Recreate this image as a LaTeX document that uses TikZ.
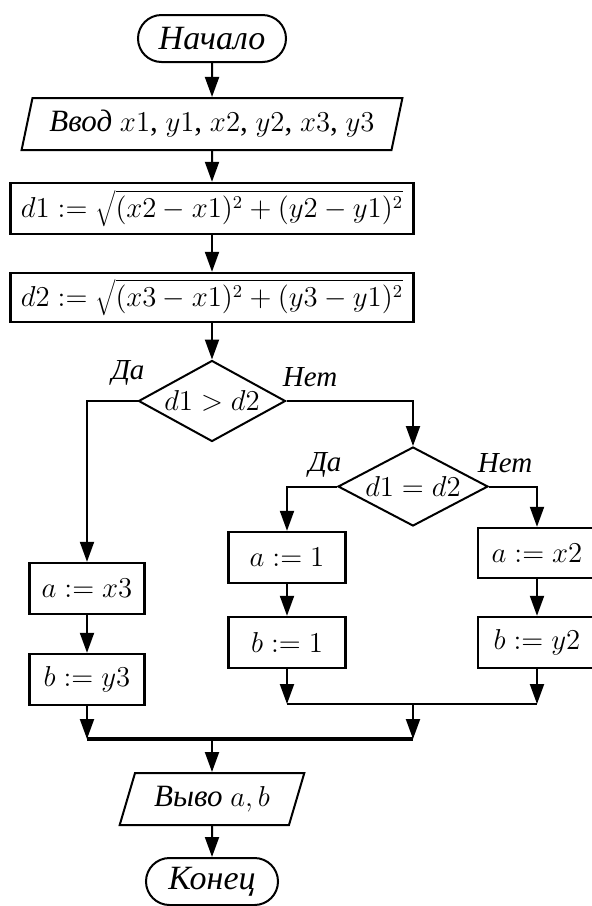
\documentclass[tikz,border=0pt]{standalone}
\usepackage{fontspec}
\setmainfont{Liberation Serif}
\usetikzlibrary{shapes.geometric,shapes.misc,arrows.meta}
\begin{document}
\begin{tikzpicture}[x=0.5pt,y=-0.5pt,
  base/.style={font=\fontsize{14}{16}\selectfont, inner sep=0pt, line width=1pt},
  term/.style={base, draw, rounded rectangle, minimum height=23.5pt, font=\fontsize{17}{19}\selectfont},
  io/.style={base, draw, trapezium, trapezium stretches=true, minimum height=26pt, font=\fontsize{15.5}{17}\selectfont},
  proc/.style={base, draw, rectangle, line width=1.2pt},
  dec/.style={base, draw, diamond, shape aspect=1.8},
  lbl/.style={font=\fontsize{14.5}{16}\selectfont\itshape, inner sep=0pt},
  arr/.style={line width=1pt, -{Triangle[width=7pt,length=10pt]}},
  ln/.style={line width=1pt}
]
\useasboundingbox (0,0) rectangle (592,906);
\fill[white] (0,0) rectangle (592,906);

\node[term, minimum width=74pt] (start) at (212,38.5) {\textit{Начало}};
\node[io, minimum width=190.5pt, trapezium left angle=70, trapezium right angle=110] (in) at (212,124)
  {\textit{Ввод} $x1$, $y1$, $x2$, $y2$, $x3$, $y3$};
\node[proc, minimum width=201.5pt, minimum height=25.5pt, font=\fontsize{13.5}{15}\selectfont] (d1) at (212,208.5)
  {$d1 := \sqrt{(x2-x1)^2+(y2-y1)^2}$};
\node[proc, minimum width=201.5pt, minimum height=24.5pt, font=\fontsize{13.5}{15}\selectfont] (d2) at (212,297.5)
  {$d2 := \sqrt{(x3-x1)^2+(y3-y1)^2}$};
\node[dec, minimum width=73.5pt, minimum height=40.5pt] (c1) at (212,401) {$d1 > d2$};
\node[dec, minimum width=75pt, minimum height=39.5pt] (c2) at (413,486.5) {$d1 = d2$};

\node[proc, minimum width=57.5pt, minimum height=25.5pt] (ax3) at (87,588.5) {$a := x3$};
\node[proc, minimum width=57.5pt, minimum height=25.5pt] (by3) at (87,679.5) {$b := y3$};
\node[proc, minimum width=58.5pt, minimum height=25.5pt] (a1) at (287,557.5) {$a := 1$};
\node[proc, minimum width=58.5pt, minimum height=25.5pt] (b1) at (287,642.5) {$b := 1$};
\node[proc, minimum width=59pt, minimum height=25pt] (ax2) at (537,553) {$a := x2$};
\node[proc, minimum width=59pt, minimum height=25.5pt] (by2) at (537,642.5) {$b := y2$};

\node[io, minimum width=92.5pt, trapezium left angle=66, trapezium right angle=114] (out) at (212,799)
  {\textit{Выво} $a,b$};
\node[term, minimum width=66pt] (end) at (212,881.5) {\textit{Конец}};

\node[lbl] (da1) at (128,373) {Да};
\node[lbl] (net1) at (310,377) {Нет};
\node[lbl] (da2) at (325,465) {Да};
\node[lbl] (net2) at (505,463) {Нет};

\coordinate (m1) at (413,704);
\coordinate (m2) at (212,739);

\draw[arr] (start) -- (in);
\draw[arr] (in) -- (d1);
\draw[arr] (d1) -- (d2);
\draw[arr] (d2) -- (c1);
\draw[arr] (c1.west) -| (ax3.north);
\draw[arr] (c1.east) -| (c2.north);
\draw[arr] (c2.west) -| (a1.north);
\draw[arr] (c2.east) -| (ax2.north);
\draw[arr] (ax3) -- (by3);
\draw[arr] (a1) -- (b1);
\draw[arr] (ax2) -- (by2);
\draw[arr] (b1.south) -- (b1.south |- m1);
\draw[arr] (by2.south) -- (by2.south |- m1);
\draw[ln] (b1.south |- m1) -- (by2.south |- m1);
\draw[arr] (m1) -- (m1 |- m2);
\draw[arr] (by3.south) -- (by3.south |- m2);
\draw[line width=1.6pt] (by3.south |- m2) -- (m1 |- m2);
\draw[arr] (m2) -- (out);
\draw[arr] (out) -- (end);
\end{tikzpicture}
\end{document}
